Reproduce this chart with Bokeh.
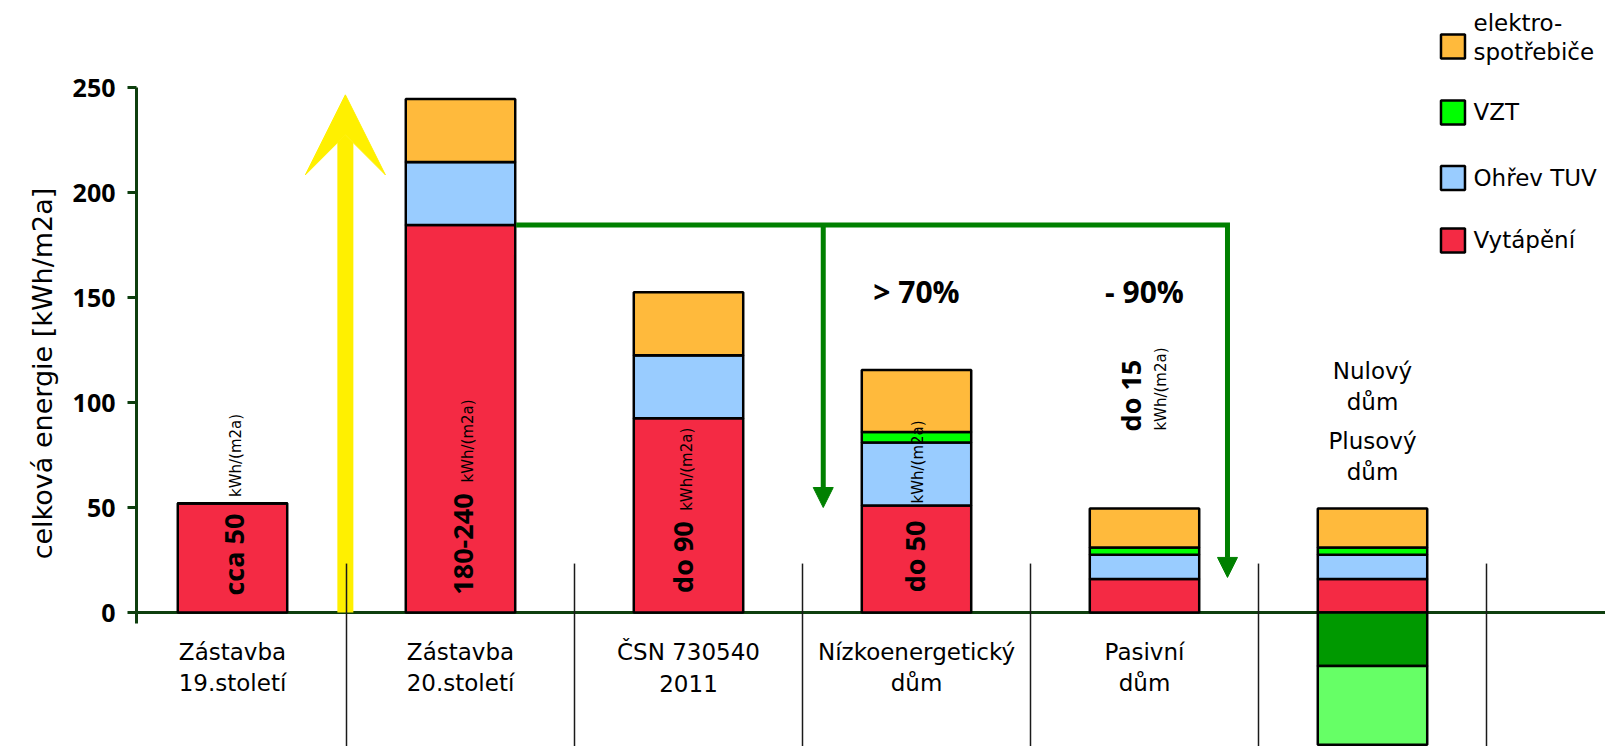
import numpy as np
from bokeh.plotting import figure
from bokeh.models import (Range1d, LinearAxis, FixedTicker, Span, Arrow,
                          NormalHead, VeeHead, ColumnDataSource)
from bokeh.core.properties import value
from bokeh.embed import file_html
from bokeh.resources import INLINE

# ---------------- data ----------------
kategorie_r1 = ["Zástavba", "Zástavba", "ČSN 730540", "Nízkoenergetický", "Pasivní"]
kategorie_r2 = ["19.století", "20.století", "2011", "dům", "dům"]
pozice = [0, 1, 2, 3, 4, 5]
vytapeni = [52, 184.5, 92.5, 51, 16, 16]
ohrev_tuv = [0, 30, 30, 30, 11.5, 11.5]
vzt = [0, 0, 0, 5, 3.5, 3.5]
elektro = [0, 30, 30, 29.5, 18.5, 18.5]
vyroba_x = [5]
vyroba_vlastni = [-25.5]
vyroba_prebytek = [-37.5]
hodnoty_text = ["cca 50", "180-240", "do 90", "do 50", "do 15"]
jednotka = "kWh/(m2a)"
uspora_text = ["> 70%", "- 90%"]
nulovy_text = ["Nulový", "dům", "Plusový", "dům"]
legenda = ["elektro-\nspotřebiče", "VZT", "Ohřev TUV", "Vytápění"]
y_ticks = [0, 50, 100, 150, 200, 250]

# ---------------- styles ----------------
C_EL, C_VZT, C_TUV, C_VYT = "#FFBA3C", "#00FF00", "#99CCFF", "#F42A44"
C_DG, C_LG = "#009900", "#66FF66"
GREEN, YELLOW, AXIS = "#008000", "#FFF000", "#0E3F0E"
REG = value("DejaVu Sans")
BOLD = value("Open Sans")

W, H = 1605, 746
LEFT = 136
X0_PX, DX_PX = 232.0, 228.0
Y0_PX, DY_PX = 612.0, 2.1

p = figure(width=W, height=H, output_backend="svg", toolbar_location=None,
           x_axis_type=None, y_axis_type=None, title=None,
           x_range=Range1d((LEFT - X0_PX) / DX_PX, (W - X0_PX) / DX_PX),
           y_range=Range1d(-(H - Y0_PX) / DY_PX, Y0_PX / DY_PX),
           min_border=0, min_border_left=LEFT)
p.outline_line_color = None
p.background_fill_color = "white"
p.border_fill_color = "white"

yax = LinearAxis(ticker=FixedTicker(ticks=y_ticks), bounds=(-5, 250),
                 axis_label="celková energie [kWh/m2a]")
yax.axis_line_color = AXIS
yax.axis_line_width = 3
yax.major_tick_line_color = AXIS
yax.major_tick_line_width = 3
yax.major_tick_out = 9
yax.major_tick_in = 0
yax.minor_tick_line_color = None
yax.major_label_standoff = 12
yax.major_label_text_font = "Open Sans"
yax.major_label_text_font_style = "bold"
yax.major_label_text_font_size = "25px"
yax.major_label_text_color = "black"
yax.axis_label_text_font = "DejaVu Sans"
yax.axis_label_text_font_style = "normal"
yax.axis_label_text_font_size = "27px"
yax.axis_label_text_color = "black"
yax.axis_label_standoff = 12
p.add_layout(yax, "left")

# x axis line at zero
p.add_layout(Span(location=0, dimension="width", line_color=AXIS, line_width=3,
                  level="underlay"))

# yellow arrow (growth of consumption)
p.add_layout(Arrow(x_start=0.495, y_start=0, x_end=0.495, y_end=246.5,
                   line_color=YELLOW, line_width=16, level="underlay",
                   end=VeeHead(size=80, fill_color=YELLOW, line_color=YELLOW,
                               line_width=1)))

# stacked bars
src = ColumnDataSource(dict(x=pozice, vytapeni=vytapeni, ohrev=ohrev_tuv,
                            vzt=vzt, elektro=elektro))
p.vbar_stack(["vytapeni", "ohrev", "vzt", "elektro"], x="x", width=0.48,
             source=src, fill_color=[C_VYT, C_TUV, C_VZT, C_EL],
             line_color="black", line_width=2.5)
src2 = ColumnDataSource(dict(x=vyroba_x, a=vyroba_vlastni, b=vyroba_prebytek))
p.vbar_stack(["a", "b"], x="x", width=0.48, source=src2,
             fill_color=[C_DG, C_LG], line_color="black", line_width=2.5)

# separators between categories
sep_x = [i + 0.5 for i in pozice]
p.segment(x0=sep_x, y0=[23.3] * len(sep_x), x1=sep_x, y1=[-80] * len(sep_x),
          line_color="#1a1a1a", line_width=1.5)

# green reduction arrows
y_ref = vytapeni[1]
p.line(x=[pozice[1] + 0.255, 4.364], y=[y_ref, y_ref], line_color=GREEN,
       line_width=5, line_cap="square")
for xa, ye in [(2.591, 50), (4.364, 16.7)]:
    p.add_layout(Arrow(x_start=xa, y_start=y_ref, x_end=xa, y_end=ye,
                       line_color=GREEN, line_width=5,
                       end=NormalHead(size=20, fill_color=GREEN,
                                      line_color=GREEN, line_width=1)))

# rotated value labels
val_y = [27.6, 32.6, 26.4, 26.7, 103.3]
val_dx = [0.5, 2.5, -6.5, -2.5, -14]
unit_y = [74.8, 81.7, 68.2, 71.7, 106.4]
unit_dx = [3, 7.5, -2, 1.5, 16.5]
p.text(x=pozice[:5], y=val_y, text=hodnoty_text, angle=np.pi / 2, x_offset=val_dx,
       text_align="center", text_baseline="middle", text_font=BOLD,
       text_font_style="bold", text_font_size="27px", text_color="black")
p.text(x=pozice[:5], y=unit_y, text=[jednotka] * 5, angle=np.pi / 2, x_offset=unit_dx,
       text_align="center", text_baseline="middle", text_font=REG,
       text_font_size="15px", text_color="black")

# percentage labels
p.text(x=[3, 4], y=[152.9, 152.9], text=uspora_text, text_align="center",
       text_baseline="middle", text_font=BOLD, text_font_style="bold",
       text_font_size="30px", text_color="black")

# category labels
p.text(x=pozice[:5], y=[-19.0] * 5, text=kategorie_r1, text_align="center",
       text_baseline="middle", text_font=REG, text_font_size="23px", text_color="black")
p.text(x=pozice[:5], y=[-33.8] * 5, text=kategorie_r2, text_align="center",
       text_baseline="middle", text_font=REG, text_font_size="23px", text_color="black")
p.text(x=[5] * 4, y=[115.2, 100.1, 81.9, 66.8], text=nulovy_text, text_align="center",
       text_baseline="middle", text_font=REG, text_font_size="23px", text_color="black")

# legend
leg_x = 5.353
leg_colors = [C_EL, C_VZT, C_TUV, C_VYT]
leg_sq_y = [269.5, 238.1, 206.9, 177.1]
p.rect(x=[leg_x] * 4, y=leg_sq_y, width=24, height=24, width_units="screen",
       height_units="screen", fill_color=leg_colors, line_color="black", line_width=2.5)
leg_line_y = [[280.7, 266.9], [238.1], [207.1], [177.6]]
lt, ly = [], []
for lab, ys in zip(legenda, leg_line_y):
    for line, yy in zip(lab.split("\n"), ys):
        lt.append(line)
        ly.append(yy)
p.text(x=[5.443] * len(lt), y=ly, text=lt, text_align="left", text_baseline="middle",
       text_font=REG, text_font_size="23px", text_color="black")

open("out.html", "w").write(file_html(p, INLINE, title="Energie"))
